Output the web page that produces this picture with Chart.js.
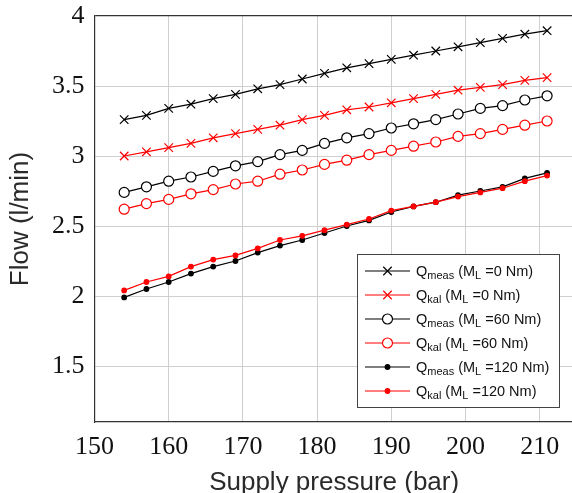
<!DOCTYPE html>
<html lang="en">
<head>
    <meta charset="UTF-8">
    <title>Flow vs supply pressure</title>
    <script src="https://cdn.jsdelivr.net/npm/chart.js"></script>
    <style>
        html, body {
            margin: 0;
            padding: 0;
            background: #fff;
            overflow: hidden;
        }
        /* the original figure is cropped on the right, so the canvas runs a bit past the window */
        .wrap {
            width: 572px;
            height: 493px;
            overflow: hidden;
        }
        canvas {
            display: block;
        }
    </style>
</head>
<body>
    <div class="wrap">
        <canvas id="flowChart" width="581" height="493"></canvas>
    </div>

    <script>
        // supply pressure (bar)
        const pressure = [154, 157, 160, 163, 166, 169, 172, 175, 178, 181, 184, 187, 190, 193, 196, 199, 202, 205, 208, 211];

        // flow (l/min)
        const qMeas0   = [3.26, 3.29, 3.34, 3.37, 3.41, 3.44, 3.48, 3.51, 3.55, 3.59, 3.63, 3.66, 3.69, 3.72, 3.75, 3.78, 3.81, 3.84, 3.87, 3.895];
        const qKal0    = [3.00, 3.03, 3.06, 3.09, 3.13, 3.16, 3.19, 3.22, 3.26, 3.29, 3.33, 3.35, 3.38, 3.41, 3.44, 3.47, 3.49, 3.51, 3.54, 3.56];
        const qMeas60  = [2.74, 2.78, 2.82, 2.85, 2.89, 2.93, 2.96, 3.01, 3.04, 3.09, 3.13, 3.16, 3.20, 3.23, 3.26, 3.30, 3.34, 3.36, 3.40, 3.43];
        const qKal60   = [2.62, 2.66, 2.69, 2.73, 2.76, 2.80, 2.82, 2.87, 2.90, 2.94, 2.97, 3.01, 3.04, 3.07, 3.10, 3.14, 3.16, 3.19, 3.22, 3.25];
        const qMeas120 = [1.99, 2.05, 2.10, 2.16, 2.21, 2.25, 2.31, 2.36, 2.40, 2.45, 2.50, 2.54, 2.60, 2.64, 2.67, 2.72, 2.75, 2.78, 2.84, 2.88];
        const qKal120  = [2.04, 2.10, 2.14, 2.21, 2.26, 2.29, 2.34, 2.40, 2.43, 2.47, 2.51, 2.55, 2.61, 2.64, 2.67, 2.71, 2.74, 2.77, 2.82, 2.86];

        const xTicks = [150, 160, 170, 180, 190, 200, 210];
        const yTicks = [1.5, 2, 2.5, 3, 3.5, 4];

        // legend text pieces: Q_sub (M_L =load Nm)
        const legendSubs  = ['meas', 'kal', 'meas', 'kal', 'meas', 'kal'];
        const legendLoads = [0, 0, 60, 60, 120, 120];

        const sans = "'Liberation Sans', Arial, sans-serif";
        const serif = "'Liberation Serif', 'Times New Roman', serif";

        const pts = vals => pressure.map((p, i) => ({ x: p, y: vals[i] }));

        function series(vals, color, style, radius, fill, order) {
            return {
                data: pts(vals),
                borderColor: color,
                borderWidth: 1.2,
                pointStyle: style,
                pointRadius: radius,
                pointHoverRadius: radius,
                pointBorderColor: color,
                pointBackgroundColor: fill,
                pointBorderWidth: 1.2,
                tension: 0,
                fill: false,
                order: order
            };
        }

        // legend drawn by hand so the subscripts look right
        const subLegend = {
            id: 'subLegend',
            afterDatasetsDraw(chart) {
                const ctx = chart.ctx;
                ctx.save();
                ctx.fillStyle = '#fff';
                ctx.fillRect(357.5, 254.5, 202, 153);
                ctx.strokeStyle = '#444';
                ctx.lineWidth = 1;
                ctx.strokeRect(357.5, 254.5, 202, 153);

                chart.data.datasets.forEach((ds, i) => {
                    const y = 271 + i * 24;
                    ctx.strokeStyle = ds.borderColor;
                    ctx.lineWidth = ds.borderWidth;
                    ctx.beginPath();
                    ctx.moveTo(365, y);
                    ctx.lineTo(410, y);
                    ctx.stroke();

                    ctx.fillStyle = ds.pointBackgroundColor;
                    ctx.strokeStyle = ds.pointBorderColor;
                    ctx.lineWidth = ds.pointBorderWidth;
                    Chart.helpers.drawPoint(ctx, {
                        pointStyle: ds.pointStyle,
                        radius: ds.pointRadius,
                        borderWidth: ds.pointBorderWidth,
                        rotation: 0
                    }, 387.5, y);

                    let x = 416;
                    const base = y + 5;
                    ctx.fillStyle = '#111';
                    ctx.textBaseline = 'alphabetic';
                    ctx.textAlign = 'left';
                    const put = (txt, size, dy) => {
                        ctx.font = size + 'px ' + sans;
                        ctx.fillText(txt, x, base + dy);
                        x += ctx.measureText(txt).width;
                    };
                    put('Q', 14.5, 0);
                    put(legendSubs[i], 11, 3);
                    put(' (M', 14.5, 0);
                    put('L', 11, 3);
                    put(' =' + legendLoads[i] + ' Nm)', 14.5, 0);
                });
                ctx.restore();
            }
        };

        new Chart(document.getElementById('flowChart'), {
            type: 'line',
            data: {
                datasets: [
                    series(qMeas0, '#000', 'crossRot', 6, '#000', 1),
                    series(qKal0, '#f00', 'crossRot', 6, '#f00', 0),
                    series(qMeas60, '#000', 'circle', 5, '#fff', 1),
                    series(qKal60, '#f00', 'circle', 5, '#fff', 0),
                    series(qMeas120, '#000', 'circle', 2.3, '#000', 1),
                    series(qKal120, '#f00', 'circle', 2.3, '#f00', 0)
                ]
            },
            options: {
                responsive: false,
                devicePixelRatio: 1,
                animation: false,
                layout: { padding: { top: 16, right: 0, left: 0, bottom: 0 } },
                plugins: {
                    legend: { display: false },
                    tooltip: { enabled: false }
                },
                scales: {
                    x: {
                        type: 'linear',
                        min: 150,
                        max: 214.6,
                        afterBuildTicks: s => { s.ticks = xTicks.map(v => ({ value: v })); },
                        afterFit: s => { s.height = 71; },
                        grid: { color: '#cfcfcf', lineWidth: 1, drawTicks: false },
                        border: { color: '#333', width: 1.2 },
                        ticks: {
                            color: '#111',
                            padding: 10,
                            maxRotation: 0,
                            font: { family: serif, size: 26 }
                        },
                        title: {
                            display: true,
                            text: 'Supply pressure (bar)',
                            color: '#2a2a2a',
                            padding: { top: 0, bottom: 0 },
                            font: { family: sans, size: 26, lineHeight: 0.8 }
                        }
                    },
                    y: {
                        min: 1.1,
                        max: 4,
                        afterBuildTicks: s => { s.ticks = yTicks.map(v => ({ value: v })); },
                        afterFit: s => { s.width = 94.5; s.paddingTop = 0; s.paddingBottom = 0; },
                        grid: {
                            color: c => (c.tick && c.tick.value === 4 ? '#333' : '#cfcfcf'),
                            lineWidth: c => (c.tick && c.tick.value === 4 ? 1.2 : 1),
                            drawTicks: false
                        },
                        border: { color: '#333', width: 1.2 },
                        ticks: {
                            color: '#111',
                            padding: 10,
                            font: { family: serif, size: 26 },
                            callback: v => String(v)
                        },
                        title: {
                            display: true,
                            text: 'Flow (l/min)',
                            color: '#2a2a2a',
                            padding: { top: 8, bottom: 0 },
                            font: { family: sans, size: 26, lineHeight: 1 }
                        }
                    }
                }
            },
            plugins: [subLegend]
        });
    </script>
</body>
</html>
